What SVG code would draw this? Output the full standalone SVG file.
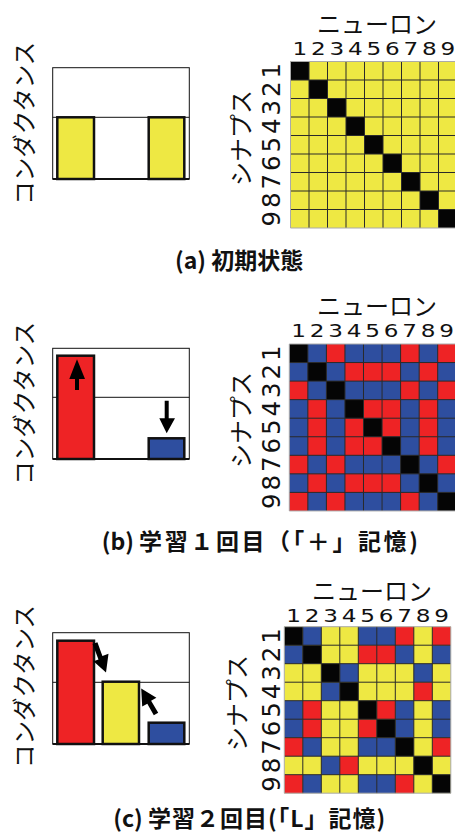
<svg xmlns="http://www.w3.org/2000/svg" width="455" height="834" viewBox="0 0 455 834">
<style>
.jp{font-family:"Noto Sans CJK JP","Noto Sans",sans-serif;fill:#111}
.num{font-family:"DejaVu Sans",sans-serif;fill:#111}
.frame{fill:none;stroke:#111;stroke-width:1}
.axis{stroke:#111;stroke-width:2}
.bar{stroke:#111;stroke-width:2.5}
.Y{fill:#EEE843}.R{fill:#EE2325}.B{fill:#2E4E9F}.K{fill:#050505}
.gl{fill:none;stroke:#2a2a2a;stroke-width:1;vector-effect:non-scaling-stroke}
.gb{fill:none;stroke:#aaaaaa;stroke-width:1;vector-effect:non-scaling-stroke}
.arr{fill:#000;stroke:none}
.lab{font-family:"Noto Sans CJK JP","Noto Sans",sans-serif;font-size:23px;font-weight:bold;fill:#111}
</style>
<defs>
<path id="grid" class="gl" d="M0 1H9M0 2H9M0 3H9M0 4H9M0 5H9M0 6H9M0 7H9M0 8H9M1 0V9M2 0V9M3 0V9M4 0V9M5 0V9M6 0V9M7 0V9M8 0V9"/>
<path id="diag" class="K" d="M0 0h1v1h-1zM1 1h1v1h-1zM2 2h1v1h-1zM3 3h1v1h-1zM4 4h1v1h-1zM5 5h1v1h-1zM6 6h1v1h-1zM7 7h1v1h-1zM8 8h1v1h-1z"/>
<text id="ylab" class="jp" font-size="23.5" text-anchor="middle" dominant-baseline="central">コンダクタンス</text>
<text id="slab" class="jp" font-size="24" text-anchor="middle" dominant-baseline="central">シナプス</text>
<text id="nlab" class="jp" font-size="24" text-anchor="middle">ニューロン</text>
<text id="sdig" class="num" font-size="24.5" text-anchor="middle" x="-157.25 -138.75 -120.25 -101.75 -83.25 -64.75 -46.25 -27.75 -9.25" y="9">987654321</text>
<text id="tdig" class="num" font-size="18.5" text-anchor="middle" x="7.4 22.2 37 51.8 66.6 81.4 96.2 111 125.8">123456789</text>
</defs>

<!-- (a) -->
<g id="chart-a">
<use href="#ylab" transform="translate(23.3,123.3) rotate(-90)"/>
<rect class="frame" x="52.7" y="67.7" width="136.6" height="111.3"/>
<line class="frame" x1="52.7" y1="117.3" x2="189.3" y2="117.3"/>
<line class="axis" x1="52.7" y1="179" x2="189.3" y2="179"/>
<rect class="bar Y" x="57.3" y="117.3" width="36.7" height="61.7"/>
<rect class="bar Y" x="148.7" y="117.3" width="35.6" height="61.7"/>
</g>
<g id="matrix-a">
<use href="#nlab" x="377" y="33"/>
<use href="#tdig" transform="translate(290.5,55) scale(1.25,1)"/>
<use href="#slab" transform="translate(239,138) rotate(-90)"/>
<use href="#sdig" transform="translate(271,61.5) rotate(-90)"/>
<g transform="translate(290.5,61.5) scale(18.5)">
<rect class="Y" x="0" y="0" width="9" height="9"/>
<use href="#diag"/>
<use href="#grid"/>
<rect class="gb" x="0" y="0" width="9" height="9"/>
</g>
</g>
<text id="label-a" class="lab" x="175" y="269">(a) 初期状態</text>

<!-- (b) -->
<g id="chart-b">
<use href="#ylab" transform="translate(23.3,403.3) rotate(-90)"/>
<rect class="frame" x="52.7" y="348.3" width="136.6" height="110.7"/>
<line class="frame" x1="52.7" y1="397.3" x2="189.3" y2="397.3"/>
<line class="axis" x1="52.7" y1="459" x2="189.3" y2="459"/>
<rect class="bar R" x="57.3" y="355.7" width="36.7" height="103.3"/>
<rect class="bar B" x="148.7" y="438.3" width="35.6" height="20.7"/>
<path class="arr" d="M75 390V379H69.3L77 359.3L85 379H79V390Z"/>
<path class="arr" d="M164.7 400.7V418.3H159.3L166.7 433.3L175 418.3H168.7V400.7Z"/>
</g>
<g id="matrix-b">
<use href="#nlab" x="377" y="315"/>
<use href="#tdig" transform="translate(289.3,337) scale(1.25,1)"/>
<use href="#slab" transform="translate(239,420) rotate(-90)"/>
<use href="#sdig" transform="translate(271,344) rotate(-90)"/>
<g transform="translate(289.3,344) scale(18.55)">
<rect class="B" x="0" y="0" width="9" height="9"/>
<path class="R" d="M2 0h1v1h-1zM6 0h1v1h-1zM8 0h1v1h-1zM3 1h1v1h-1zM4 1h1v1h-1zM5 1h1v1h-1zM7 1h1v1h-1zM0 2h1v1h-1zM6 2h1v1h-1zM8 2h1v1h-1zM1 3h1v1h-1zM4 3h1v1h-1zM5 3h1v1h-1zM7 3h1v1h-1zM1 4h1v1h-1zM3 4h1v1h-1zM5 4h1v1h-1zM7 4h1v1h-1zM1 5h1v1h-1zM3 5h1v1h-1zM4 5h1v1h-1zM7 5h1v1h-1zM0 6h1v1h-1zM2 6h1v1h-1zM8 6h1v1h-1zM1 7h1v1h-1zM3 7h1v1h-1zM4 7h1v1h-1zM5 7h1v1h-1zM0 8h1v1h-1zM2 8h1v1h-1zM6 8h1v1h-1z"/>
<use href="#diag"/>
<use href="#grid"/>
<rect class="gb" x="0" y="0" width="9" height="9"/>
</g>
</g>
<text id="label-b" class="lab" x="101.7" y="550">(b) <tspan letter-spacing="2.6">学習１回目（「＋」記憶</tspan>)</text>

<!-- (c) -->
<g id="chart-c">
<use href="#ylab" transform="translate(23.3,686.5) rotate(-90)"/>
<rect class="frame" x="52.7" y="632.7" width="136.6" height="111.3"/>
<line class="frame" x1="52.7" y1="682.3" x2="189.3" y2="682.3"/>
<line class="axis" x1="52.7" y1="744" x2="189.3" y2="744"/>
<rect class="bar R" x="57.3" y="640.7" width="36.7" height="103.3"/>
<rect class="bar Y" x="102.7" y="681.7" width="36.3" height="62.3"/>
<rect class="bar B" x="148.7" y="722.7" width="35.6" height="21.3"/>
<path class="arr" d="M92.6 644.1L97.4 642.3L102.4 655.9L108.5 653.8L106 672.5L93.5 661.3L98.5 659.6Z"/>
<path class="arr" d="M158.2 712.7L153.8 715.3L147.3 703.7L142.2 706.6L141.2 688.6L156.4 697.8L151.1 700.8Z"/>
</g>
<g id="matrix-c">
<use href="#nlab" x="372" y="600"/>
<use href="#tdig" transform="translate(284.3,622) scale(1.25,1)"/>
<use href="#slab" transform="translate(235,703) rotate(-90)"/>
<use href="#sdig" transform="translate(271,626.7) rotate(-90)"/>
<g transform="translate(284.3,626.7) scale(18.5)">
<rect class="Y" x="0" y="0" width="9" height="9"/>
<path class="B" d="M1 0h1v1h-1zM4 0h1v1h-1zM5 0h1v1h-1zM0 1h1v1h-1zM6 1h1v1h-1zM8 1h1v1h-1zM3 2h1v1h-1zM7 2h1v1h-1zM2 3h1v1h-1zM0 4h1v1h-1zM6 4h1v1h-1zM8 4h1v1h-1zM0 5h1v1h-1zM6 5h1v1h-1zM8 5h1v1h-1zM1 6h1v1h-1zM4 6h1v1h-1zM5 6h1v1h-1zM2 7h1v1h-1zM1 8h1v1h-1zM4 8h1v1h-1zM5 8h1v1h-1z"/>
<path class="R" d="M6 0h1v1h-1zM8 0h1v1h-1zM4 1h1v1h-1zM5 1h1v1h-1zM7 3h1v1h-1zM1 4h1v1h-1zM5 4h1v1h-1zM1 5h1v1h-1zM4 5h1v1h-1zM0 6h1v1h-1zM8 6h1v1h-1zM3 7h1v1h-1zM0 8h1v1h-1zM6 8h1v1h-1z"/>
<use href="#diag"/>
<use href="#grid"/>
<rect class="gb" x="0" y="0" width="9" height="9"/>
</g>
</g>
<text id="label-c" class="lab" x="113.3" y="827">(c) <tspan letter-spacing="1">学習２回目(「L」記憶</tspan>)</text>
</svg>
